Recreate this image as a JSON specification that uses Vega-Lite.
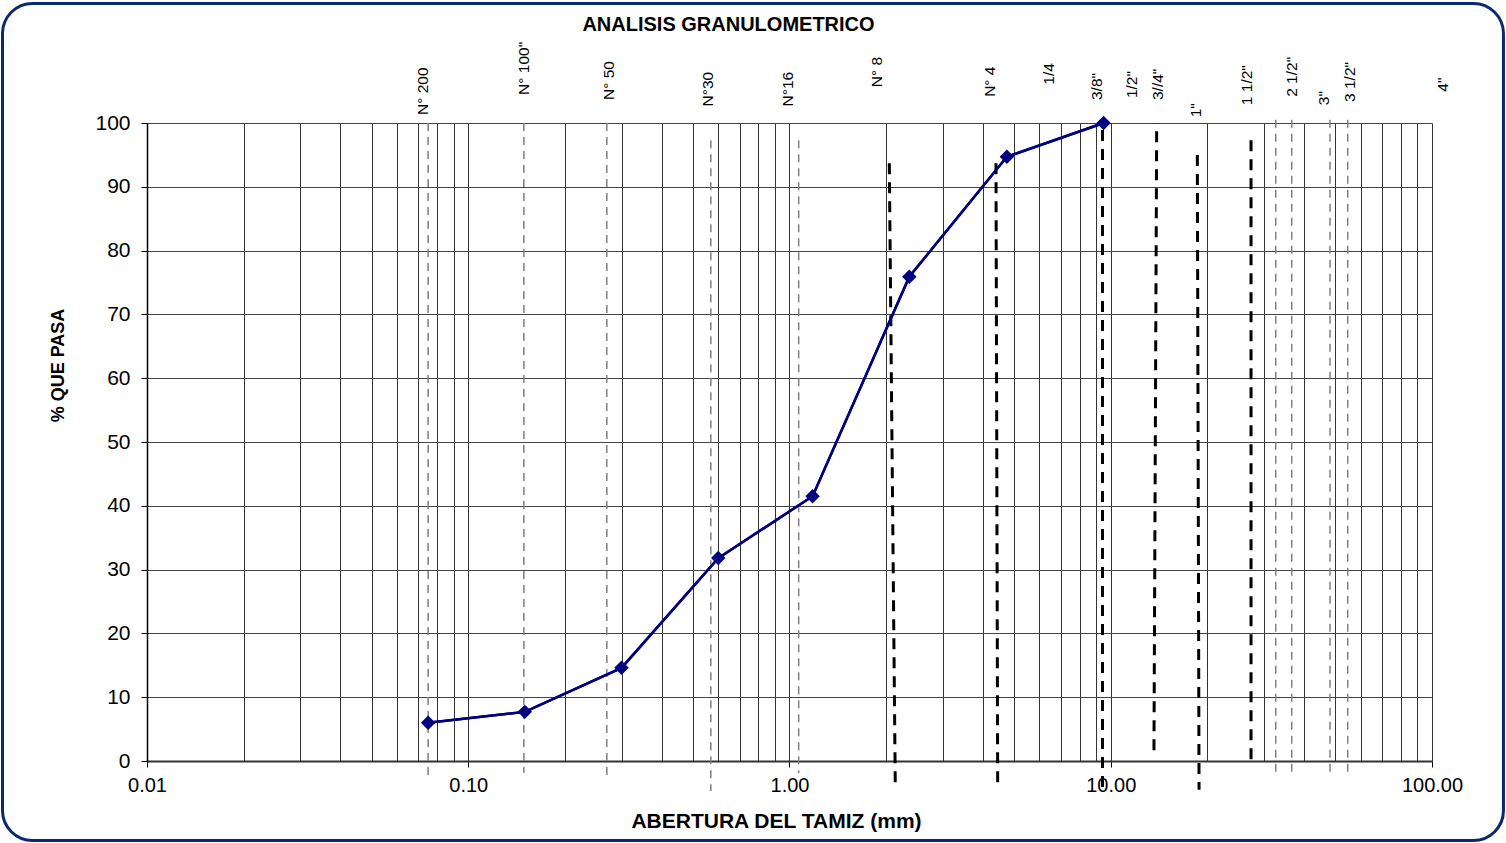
{
  "$schema": "https://vega.github.io/schema/vega-lite/v6.json",
  "width": 1285,
  "height": 638,
  "autosize": "none",
  "padding": {"left": 147, "top": 123, "right": 74, "bottom": 82},
  "background": "#ffffff",
  "config": {"font": "Liberation Sans", "view": {"stroke": null}},
  "title": {
    "text": "ANALISIS GRANULOMETRICO",
    "font": "Liberation Sans",
    "fontSize": 20,
    "fontWeight": "bold",
    "color": "#000000",
    "anchor": "middle",
    "frame": "group",
    "baseline": "alphabetic",
    "offset": 0,
    "dy": 49,
    "dx": -61
  },
  "datasets": {
    "curva": [
      {"abertura": 0.075, "pasa": 6.0},
      {"abertura": 0.15, "pasa": 7.7},
      {"abertura": 0.3, "pasa": 14.6},
      {"abertura": 0.6, "pasa": 31.8},
      {"abertura": 1.18, "pasa": 41.5},
      {"abertura": 2.36, "pasa": 75.9},
      {"abertura": 4.75, "pasa": 94.7},
      {"abertura": 9.5, "pasa": 100}
    ],
    "guias": [
      {"tamiz": "g200", "tipo": "fino", "abertura": 0.075, "pasa": 100},
      {"tamiz": "g200", "tipo": "fino", "abertura": 0.075, "pasa": -2.2},
      {"tamiz": "g100", "tipo": "fino", "abertura": 0.149, "pasa": 100},
      {"tamiz": "g100", "tipo": "fino", "abertura": 0.149, "pasa": -1.9},
      {"tamiz": "g50", "tipo": "fino", "abertura": 0.27, "pasa": 100},
      {"tamiz": "g50", "tipo": "fino", "abertura": 0.27, "pasa": -2.2},
      {"tamiz": "g30", "tipo": "fino", "abertura": 0.569, "pasa": 97.3},
      {"tamiz": "g30", "tipo": "fino", "abertura": 0.569, "pasa": -4.7},
      {"tamiz": "g16", "tipo": "fino", "abertura": 1.068, "pasa": 97.3},
      {"tamiz": "g16", "tipo": "fino", "abertura": 1.068, "pasa": -1.9},
      {"tamiz": "g8", "tipo": "grueso", "abertura": 2.045, "pasa": 93.7},
      {"tamiz": "g8", "tipo": "grueso", "abertura": 2.135, "pasa": -4.5},
      {"tamiz": "g4", "tipo": "grueso", "abertura": 4.393, "pasa": 93.7},
      {"tamiz": "g4", "tipo": "grueso", "abertura": 4.447, "pasa": -4.1},
      {"tamiz": "g38", "tipo": "grueso", "abertura": 9.426, "pasa": 98.9},
      {"tamiz": "g38", "tipo": "grueso", "abertura": 9.426, "pasa": -4.5},
      {"tamiz": "g34", "tipo": "grueso", "abertura": 13.9, "pasa": 100},
      {"tamiz": "g34", "tipo": "grueso", "abertura": 13.63, "pasa": 1.7},
      {"tamiz": "g1", "tipo": "grueso", "abertura": 18.6, "pasa": 95.0},
      {"tamiz": "g1", "tipo": "grueso", "abertura": 18.83, "pasa": -4.5},
      {"tamiz": "g112", "tipo": "grueso", "abertura": 27.33, "pasa": 97.3},
      {"tamiz": "g112", "tipo": "grueso", "abertura": 27.33, "pasa": -0.6},
      {"tamiz": "g212", "tipo": "fino", "abertura": 32.63, "pasa": 100.5},
      {"tamiz": "g212", "tipo": "fino", "abertura": 32.63, "pasa": -2.2},
      {"tamiz": "g212b", "tipo": "fino", "abertura": 36.59, "pasa": 100.5},
      {"tamiz": "g212b", "tipo": "fino", "abertura": 36.59, "pasa": -2.2},
      {"tamiz": "g3", "tipo": "fino", "abertura": 48.14, "pasa": 100.5},
      {"tamiz": "g3", "tipo": "fino", "abertura": 48.14, "pasa": -2.2},
      {"tamiz": "g312", "tipo": "fino", "abertura": 54.66, "pasa": 100.5},
      {"tamiz": "g312", "tipo": "fino", "abertura": 54.66, "pasa": -2.2}
    ],
    "etiquetas": [
      {"tamiz": "N° 200", "abertura": 0.0723, "altura": 101.25},
      {"tamiz": "N° 100\"", "abertura": 0.1491, "altura": 104.4},
      {"tamiz": "N° 50", "abertura": 0.2742, "altura": 103.6},
      {"tamiz": "N°30", "abertura": 0.5577, "altura": 102.6},
      {"tamiz": "N°16", "abertura": 0.989, "altura": 102.6},
      {"tamiz": "N° 8", "abertura": 1.879, "altura": 105.6},
      {"tamiz": "N° 4", "abertura": 4.208, "altura": 104.1},
      {"tamiz": "1/4", "abertura": 6.425, "altura": 106.0},
      {"tamiz": "3/8\"", "abertura": 9.06, "altura": 103.6},
      {"tamiz": "1/2\"", "abertura": 11.65, "altura": 103.9},
      {"tamiz": "3//4\"", "abertura": 14.03, "altura": 103.6},
      {"tamiz": "1\"", "abertura": 18.43, "altura": 100.9},
      {"tamiz": "1 1/2\"", "abertura": 26.56, "altura": 102.8},
      {"tamiz": "2 1/2\"", "abertura": 36.66, "altura": 104.1},
      {"tamiz": "3\"", "abertura": 46.1, "altura": 102.8},
      {"tamiz": "3 1/2\"", "abertura": 55.55, "altura": 103.3},
      {"tamiz": "4\"", "abertura": 108.2, "altura": 104.9}
    ]
  },
  "layer": [
    {
      "data": {"name": "curva"},
      "mark": {"type": "line", "color": "#000080", "strokeWidth": 2.5},
      "encoding": {
        "x": {
          "field": "abertura",
          "type": "quantitative",
          "scale": {"type": "log", "domain": [0.01, 100], "nice": false},
          "axis": {
            "values": [0.01, 0.02, 0.03, 0.04, 0.05, 0.06, 0.07, 0.08, 0.09, 0.1, 0.2, 0.3, 0.4, 0.5, 0.6, 0.7, 0.8, 0.9, 1, 2, 3, 4, 5, 6, 7, 8, 9, 10, 20, 30, 40, 50, 60, 70, 80, 90, 100],
            "labelExpr": "abs(log(datum.value)/LN10 - round(log(datum.value)/LN10)) < 0.001 ? format(datum.value, '.2f') : ''",
            "tickOpacity": {"condition": {"test": "abs(log(datum.value)/LN10 - round(log(datum.value)/LN10)) < 0.001", "value": 1}, "value": 0},
            "tickSize": 6,
            "tickColor": "#000000",
            "grid": true,
            "gridColor": "#333333",
            "gridWidth": 1,
            "domainColor": "#333333",
            "domainWidth": 2,
            "labelFontSize": 20,
            "labelColor": "#000000",
            "labelPadding": 8,
            "labelOverlap": false,
            "labelFlush": false,
            "title": "ABERTURA DEL TAMIZ (mm)",
            "titleFontSize": 21,
            "titleFontWeight": "bold",
            "titleColor": "#000000",
            "titleX": 629,
            "titleY": 66,
            "titleBaseline": "alphabetic"
          }
        },
        "y": {
          "field": "pasa",
          "type": "quantitative",
          "scale": {"domain": [0, 100], "nice": false, "zero": false},
          "axis": {
            "values": [0, 10, 20, 30, 40, 50, 60, 70, 80, 90, 100],
            "tickSize": 6,
            "tickColor": "#000000",
            "grid": true,
            "gridColor": "#444444",
            "gridWidth": 1,
            "domainColor": "#000000",
            "domainWidth": 1.5,
            "labelFontSize": 21,
            "labelColor": "#000000",
            "labelPadding": 11,
            "title": "% QUE PASA",
            "titleFontSize": 18,
            "titleFontWeight": "bold",
            "titleColor": "#000000",
            "titleAngle": 270,
            "titleX": -84,
            "titleY": 242,
            "titleBaseline": "alphabetic"
          }
        }
      }
    },
    {
      "data": {"name": "guias"},
      "transform": [{"filter": "datum.tipo == 'fino'"}],
      "mark": {"type": "line", "color": "#808080", "strokeWidth": 1.5, "strokeDash": [8, 6]},
      "encoding": {
        "x": {"field": "abertura", "type": "quantitative", "scale": {"type": "log", "domain": [0.01, 100], "nice": false}},
        "y": {"field": "pasa", "type": "quantitative", "scale": {"domain": [0, 100], "nice": false, "zero": false}},
        "detail": {"field": "tamiz"}
      }
    },
    {
      "data": {"name": "guias"},
      "transform": [{"filter": "datum.tipo == 'grueso'"}],
      "mark": {"type": "line", "color": "#000000", "strokeWidth": 3, "strokeDash": [11, 8]},
      "encoding": {
        "x": {"field": "abertura", "type": "quantitative", "scale": {"type": "log", "domain": [0.01, 100], "nice": false}},
        "y": {"field": "pasa", "type": "quantitative", "scale": {"domain": [0, 100], "nice": false, "zero": false}},
        "detail": {"field": "tamiz"}
      }
    },
    {
      "data": {"name": "curva"},
      "mark": {"type": "line", "color": "#000080", "strokeWidth": 2.5},
      "encoding": {
        "x": {"field": "abertura", "type": "quantitative"},
        "y": {"field": "pasa", "type": "quantitative"}
      }
    },
    {
      "data": {"name": "curva"},
      "mark": {"type": "point", "shape": "diamond", "filled": true, "color": "#000080", "size": 210, "opacity": 1},
      "encoding": {
        "x": {"field": "abertura", "type": "quantitative"},
        "y": {"field": "pasa", "type": "quantitative"}
      }
    },
    {
      "data": {"name": "etiquetas"},
      "mark": {"type": "text", "angle": 270, "align": "left", "baseline": "middle", "fontSize": 15.5, "color": "#000000"},
      "encoding": {
        "x": {"field": "abertura", "type": "quantitative"},
        "y": {"field": "altura", "type": "quantitative"},
        "text": {"field": "tamiz"}
      }
    },
    {
      "data": {"values": [{}]},
      "mark": {"type": "rect", "fill": null, "fillOpacity": 0, "stroke": "#0b2a6e", "strokeWidth": 3, "cornerRadius": 30},
      "encoding": {
        "x": {"datum": 0.00355, "type": "quantitative"},
        "x2": {"datum": 166.9},
        "y": {"datum": 118.73, "type": "quantitative"},
        "y2": {"datum": -12.46}
      }
    }
  ]
}
